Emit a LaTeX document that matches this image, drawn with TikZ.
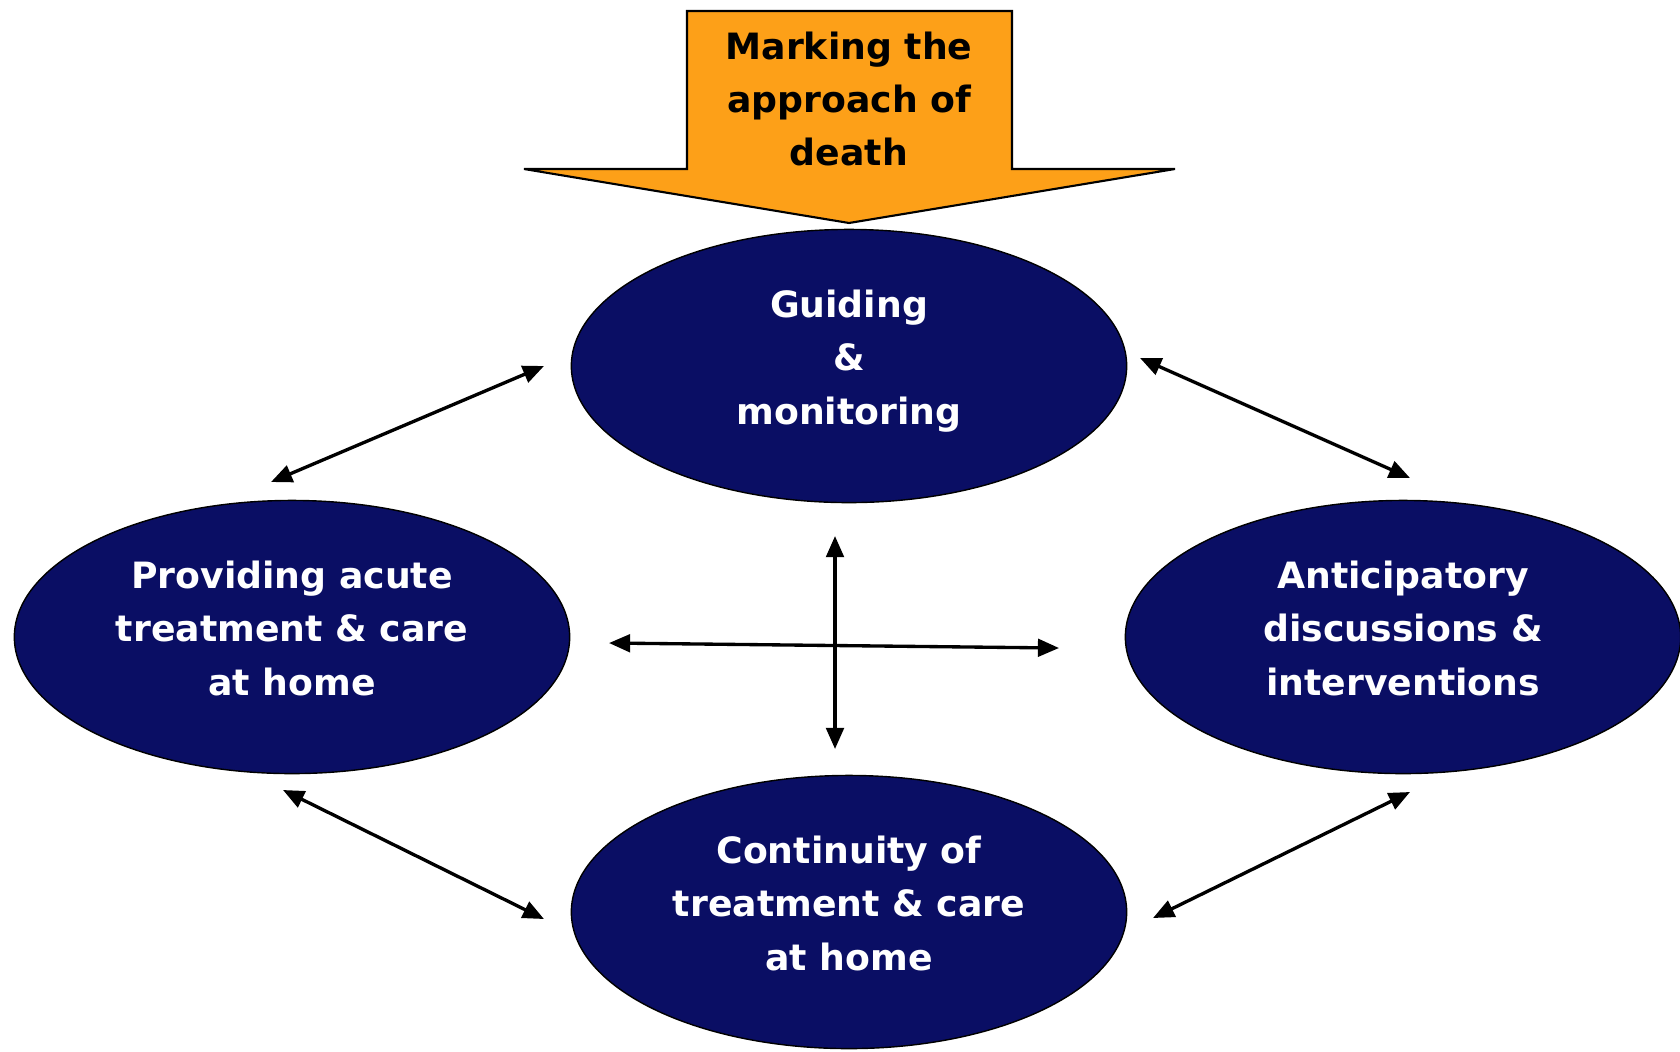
\documentclass[tikz,border=0pt]{standalone}
\usepackage{fontspec}
\setmainfont{DejaVu Sans}
\usetikzlibrary{shapes.geometric,arrows.meta}
\definecolor{navy}{RGB}{10,14,100}
\definecolor{marking}{RGB}{253,160,24}
\tikzset{
  stage/.style={ellipse, draw=black, fill=navy, text=white, font=\bfseries\fontsize{10.3}{15.2}\selectfont,
    align=center, inner sep=0pt, text depth=5pt, minimum width=5.55cm, minimum height=2.73cm},
  link/.style={{Triangle[length=6pt,width=5pt]}-{Triangle[length=6pt,width=5pt]}, line width=0.95pt}
}
\begin{document}
\begin{tikzpicture}[x=0.01cm,y=-0.01cm]
            \useasboundingbox (0,0) rectangle (1680,1051);
            % big arrow at the top
            \draw [fill=marking, line width=0.6pt] (687,11) -- (1012,11) -- (1012,169) -- (1175,169)
                -- (849,223) -- (524,169) -- (687,169) -- cycle;
            \node [font=\bfseries\fontsize{10.3}{15.2}\selectfont, align=center] (mark) at (849,99)
                {Marking the\\approach of\\death};
            % the four ellipses
            \node [stage] (guide) at (849,366) {Guiding\\\&\\monitoring};
            \node [stage] (acute) at (292,637) {Providing acute\\treatment \& care\\at home};
            \node [stage] (antic) at (1403,637) {Anticipatory\\discussions \&\\interventions};
            \node [stage] (conti) at (849,912) {Continuity of\\treatment \& care\\at home};
            % arrow ends
            \coordinate (gl) at (544,366);
            \coordinate (al) at (271,482);
            \coordinate (gr) at (1140,358);
            \coordinate (ar) at (1410,478);
            \coordinate (ab) at (283,790);
            \coordinate (cl) at (544,919);
            \coordinate (cr) at (1153,918);
            \coordinate (rb) at (1410,792);
            \coordinate (up) at (835,536);
            \coordinate (dn) at (835,749);
            \coordinate (lt) at (609,643);
            \coordinate (rt) at (1059,648);
            \draw [link] (al) -- (gl);
            \draw [link] (gr) -- (ar);
            \draw [link] (ab) -- (cl);
            \draw [link] (cr) -- (rb);
            \draw [link] (up) -- (dn);
            \draw [link] (lt) -- (rt);
\end{tikzpicture}
\end{document}
